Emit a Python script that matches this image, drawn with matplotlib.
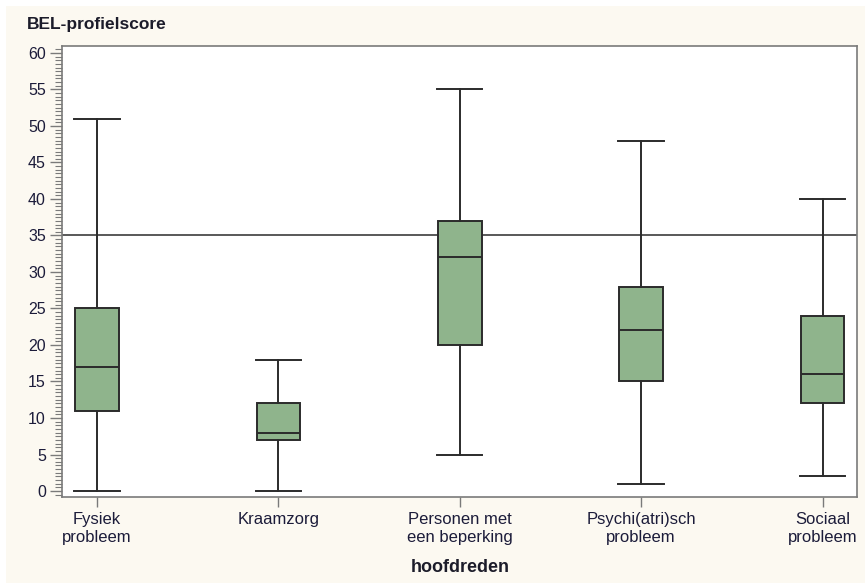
import matplotlib
matplotlib.use("Agg")
import matplotlib.pyplot as plt
from matplotlib.patches import Rectangle
from matplotlib.ticker import MultipleLocator

categories = ["Fysiek\nprobleem", "Kraamzorg", "Personen met\neen beperking",
              "Psychi(atri)sch\nprobleem", "Sociaal\nprobleem"]
whislo = [0, 0, 5, 1, 2]
q1 = [11, 7, 20, 15, 12]
med = [17, 8, 32, 22, 16]
q3 = [25, 12, 37, 28, 24]
whishi = [51, 18, 55, 48, 40]
ref_value = 35

plt.rcParams['font.family'] = ['Liberation Sans', 'DejaVu Sans']

W, H = 865, 583
fig = plt.figure(figsize=(W / 100, H / 100), dpi=100)
fig.patch.set_facecolor('white')
fig.patches.append(Rectangle((6 / W, 0), 1 - 6 / W, 1 - 6 / H, transform=fig.transFigure,
                             facecolor='#FCF9F1', edgecolor='none', zorder=-10))

left, right, top, bottom = 62, 857, 46, 497
ax = fig.add_axes([left / W, 1 - bottom / H, (right - left) / W, (bottom - top) / H])
ax.set_facecolor('white')

stats = []
for i in range(len(categories)):
    stats.append(dict(whislo=whislo[i], q1=q1[i], med=med[i], q3=q3[i],
                      whishi=whishi[i], fliers=[], label=categories[i]))

edge = '#2b2b2b'
ax.bxp(stats, positions=range(len(categories)), widths=0.24, patch_artist=True,
       showfliers=False,
       boxprops=dict(facecolor='#8FB48C', edgecolor=edge, linewidth=1.4),
       medianprops=dict(color=edge, linewidth=1.4),
       whiskerprops=dict(color=edge, linewidth=1.4),
       capprops=dict(color=edge, linewidth=1.4),
       capwidths=0.25)

ax.axhline(ref_value, color='#2b2b2b', linewidth=1.1, zorder=0)

ax.set_xlim(-0.193, 4.19)
ax.set_ylim(-0.82, 60.95)
ax.yaxis.set_major_locator(MultipleLocator(5))
ax.yaxis.set_minor_locator(MultipleLocator(0.5))

for s in ax.spines.values():
    s.set_color('#7a7a7a')
    s.set_linewidth(1.2)

ax.tick_params(axis='y', which='major', length=8.6, width=1.0, color='#7a7a7a',
               labelsize=11.5, labelcolor='#1c1c3a', pad=3)
ax.tick_params(axis='y', which='minor', length=5, width=0.8, color='#7a7a7a')
ax.tick_params(axis='x', which='major', length=7, width=1.0, color='#7a7a7a',
               labelsize=12, labelcolor='#1c1c3a', pad=4)
ax.set_xticks(range(len(categories)))
ax.set_xticklabels(categories, linespacing=1.25)

fig.text(27 / W, 1 - 25 / H, "BEL-profielscore", fontsize=12.5, fontweight='bold',
         color='#1c1c2a', ha='left', va='center')
fig.text(460 / W, 1 - 568 / H, "hoofdreden", fontsize=13, fontweight='bold',
         color='#1c1c2a', ha='center', va='center')

fig.savefig("out.png", dpi=100)
